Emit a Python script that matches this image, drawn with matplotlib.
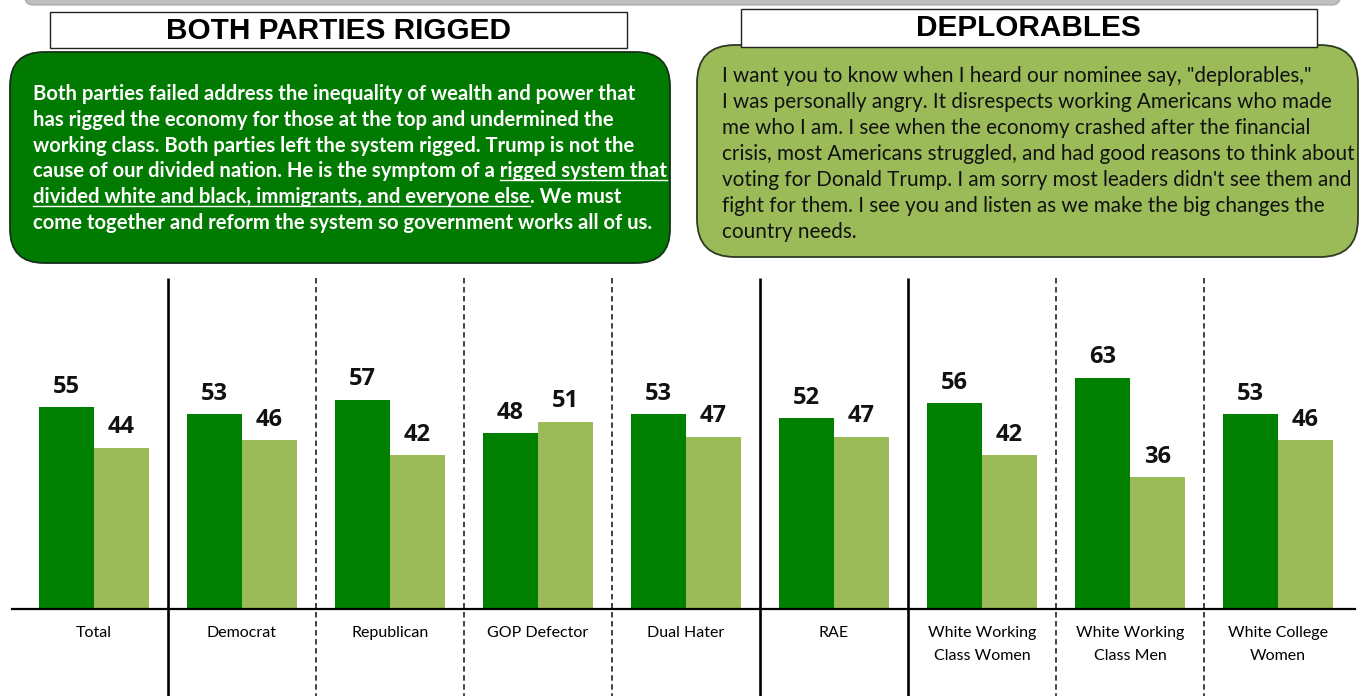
import matplotlib
matplotlib.use("Agg")
import matplotlib.pyplot as plt
from matplotlib.patches import FancyBboxPatch, Rectangle
from matplotlib.transforms import IdentityTransform, blended_transform_factory
from matplotlib.lines import Line2D

# ---------------- data ----------------
categories = ["Total", "Democrat", "Republican", "GOP Defector", "Dual Hater", "RAE",
              "White Working\nClass Women", "White Working\nClass Men", "White College\nWomen"]
rigged = [55, 53, 57, 48, 53, 52, 56, 63, 53]
deplorables = [44, 46, 42, 51, 47, 47, 42, 36, 46]
separator_styles = ["solid", "dashed", "dashed", "dashed", "solid", "solid", "dashed", "dashed"]

title_left = "BOTH PARTIES RIGGED"
title_right = "DEPLORABLES"
left_lines = [
    [("Both parties failed address the inequality of wealth and power that", False)],
    [("has rigged the economy for those at the top and undermined the", False)],
    [("working class. Both parties left the system rigged. Trump is not the", False)],
    [("cause of our divided nation. He is the symptom of a ", False), ("rigged system that", True)],
    [("divided white and black, immigrants, and everyone else", True), (". We must", False)],
    [("come together and reform the system so government works all of us.", False)],
]
right_lines = [
    'I want you to know when I heard our nominee say, "deplorables,"',
    "I was personally angry. It disrespects working Americans who made",
    "me who I am. I see when the economy crashed after the financial",
    "crisis, most Americans struggled, and had good reasons to think about",
    "voting for Donald Trump. I am sorry most leaders didn't see them and",
    "fight for them. I see you and listen as we make the big changes the",
    "country needs.",
]

DARK = "#008000"
LIGHT = "#9BBB59"
FONT = "Lato"

W, H = 1361, 696
fig = plt.figure(figsize=(W / 100, H / 100), dpi=100)
fig.patch.set_facecolor("white")
ID = IdentityTransform()


def Y(y):  # top-based pixel -> display
    return H - y


fig.canvas.draw()
R = fig.canvas.get_renderer()


def text_w(s, **kw):
    t = fig.text(0, 0, s, **kw)
    w = t.get_window_extent(R).width
    t.remove()
    return w


# ---------------- top decorations ----------------
fig.patches.append(FancyBboxPatch((25, Y(5)), 1315, 20, boxstyle="round,pad=0,rounding_size=8",
                                  transform=ID, facecolor="#BFBFBF", edgecolor="#A6A6A6", lw=0.8))

# rounded text boxes
fig.patches.append(FancyBboxPatch((10, Y(263)), 660, 211, boxstyle="round,pad=0,rounding_size=34",
                                  transform=ID, facecolor="#007A00", edgecolor="#17301a", lw=1.3))
fig.patches.append(FancyBboxPatch((697, Y(257)), 661, 212, boxstyle="round,pad=0,rounding_size=38",
                                  transform=ID, facecolor=LIGHT, edgecolor="#2e3a22", lw=1.3))

# title boxes
fig.patches.append(Rectangle((50, Y(48)), 577, 36, transform=ID, facecolor="white",
                             edgecolor="#222222", lw=1.0))
fig.patches.append(Rectangle((741, Y(47)), 576, 38, transform=ID, facecolor="white",
                             edgecolor="#222222", lw=1.0))

tkw = dict(family="Liberation Sans", weight="bold")
ts = 17 * 345 / text_w(title_left, fontsize=17, **tkw)
fig.text(338, Y(31), title_left, transform=ID, ha="center", va="center", fontsize=ts,
         color="black", **tkw)
fig.text(1028, Y(28), title_right, transform=ID, ha="center", va="center", fontsize=ts,
         color="black", **tkw)

# left box text (white, bold, partially underlined)
lkw = dict(family=FONT, weight="bold")
ls = 12 * 598 / text_w(left_lines[0][0][0], fontsize=12, **lkw)
x0 = 33
base0, step = 100, 25.8
for i, segs in enumerate(left_lines):
    yb = Y(base0 + i * step)
    full = "".join(s for s, _ in segs)
    fig.text(x0, yb, full, transform=ID, ha="left", va="baseline", fontsize=ls,
             color="white", **lkw)
    pos = 0
    for s, u in segs:
        if u:
            ref = "x"
            start = text_w(full[:pos] + ref, fontsize=ls, **lkw) - text_w(ref, fontsize=ls, **lkw) if pos else 0
            end = text_w(full[:pos + len(s)].rstrip() + ref, fontsize=ls, **lkw) - text_w(ref, fontsize=ls, **lkw)
            fig.lines.append(Line2D([x0 + start, x0 + end], [yb - 3, yb - 3], transform=ID,
                                    color="white", lw=1.0))
        pos += len(s)

# right box text
rkw = dict(family=FONT, weight="normal")
rs = 12 * 627 / text_w(right_lines[3], fontsize=12, **rkw)
for i, line in enumerate(right_lines):
    fig.text(722, Y(82 + i * 26.0), line, transform=ID, ha="left", va="baseline", fontsize=rs,
             color="#111111", **rkw)

# ---------------- bar chart ----------------
px_per_cat = 148.0
c0 = 94.0
ax_left, ax_right, ax_top, ax_bottom = 12, 1355, 278, 609
ax = fig.add_axes([ax_left / W, (H - ax_bottom) / H, (ax_right - ax_left) / W, (ax_bottom - ax_top) / H])
ax.set_xlim((ax_left - c0) / px_per_cat, (ax_right - c0) / px_per_cat)
ax.set_ylim(0, (ax_bottom - ax_top) / 3.67)
ax.patch.set_alpha(0)

x = list(range(len(categories)))
bw = 55 / px_per_cat
b1 = ax.bar([i - bw / 2 for i in x], rigged, width=bw, color=DARK)
b2 = ax.bar([i + bw / 2 for i in x], deplorables, width=bw, color=LIGHT)
for bars, vals in ((b1, rigged), (b2, deplorables)):
    for b, v in zip(bars, vals):
        ax.annotate(str(v), (b.get_x() + b.get_width() / 2, v), xytext=(0, 6),
                    textcoords="offset points", ha="center", va="bottom",
                    fontsize=17, fontweight="bold", family="Open Sans", color="#111111")

for s in ("top", "right", "left"):
    ax.spines[s].set_visible(False)
ax.spines["bottom"].set_linewidth(1.6)
ax.spines["bottom"].set_color("black")
ax.set_yticks([])
ax.set_xticks(x)
ax.set_xticklabels(categories, family=FONT, fontsize=11.5, linespacing=1.75, color="black")
ax.tick_params(axis="x", length=0, pad=12.5)

bt = blended_transform_factory(ax.transData, ax.transAxes)
ybot = -(H - ax_bottom) / (ax_bottom - ax_top)
for i, st in enumerate(separator_styles):
    xs = i + 0.5
    if st == "solid":
        ax.plot([xs, xs], [1.0, ybot], transform=bt, color="black", lw=1.9, clip_on=False,
                solid_capstyle="butt")
    else:
        ax.plot([xs, xs], [1.0, ybot], transform=bt, color="#3d2f28", lw=1.3, clip_on=False,
                dashes=(3.0, 2.0))

fig.savefig("out.png", dpi=100, facecolor="white")
